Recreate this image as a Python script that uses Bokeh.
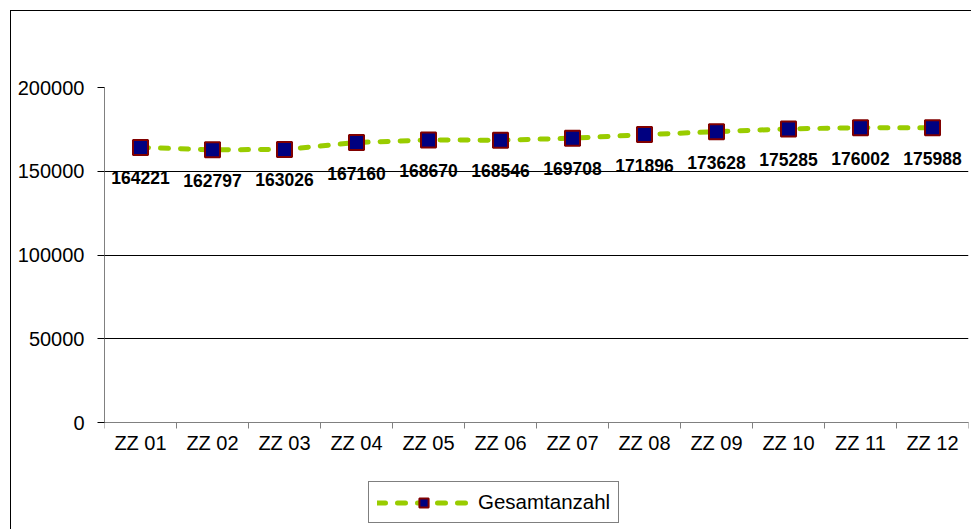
from bokeh.plotting import figure
from bokeh.models import FixedTicker, Legend, LegendItem, ColumnDataSource
from bokeh.core.properties import value
from bokeh.embed import file_html
from bokeh.resources import INLINE

categories = ["ZZ 01", "ZZ 02", "ZZ 03", "ZZ 04", "ZZ 05", "ZZ 06",
              "ZZ 07", "ZZ 08", "ZZ 09", "ZZ 10", "ZZ 11", "ZZ 12"]
counts = [164221, 162797, 163026, 167160, 168670, 168546,
          169708, 171896, 173628, 175285, 176002, 175988]
y_ticks = [0, 50000, 100000, 150000, 200000]
series_name = "Gesamtanzahl"

FONT = "Liberation Sans"

# layout (pixels): axis area 335 px tall, 108 px of space below it for labels + legend
AXIS_PX = 335
BELOW_PX = 108
y_max = y_ticks[-1]
y_min = -y_max * BELOW_PX / AXIS_PX

xs = [i + 0.5 for i in range(len(categories))]
src = ColumnDataSource(dict(x=xs, y=counts, lab=[str(c) for c in counts]))

p = figure(width=961, height=519, output_backend="svg", toolbar_location=None,
           x_range=(0, len(categories)), y_range=(y_min, y_max),
           min_border_left=93, min_border_right=4, min_border_top=76,
           min_border_bottom=0)
p.styles = {"margin-left": "10px", "margin-top": "10px",
            "border-left": "1px solid black", "border-top": "1px solid black"}
p.outline_line_color = None
p.background_fill_color = "white"
p.border_fill_color = "white"

# axes
p.xaxis.fixed_location = 0
p.xaxis.ticker = FixedTicker(ticks=xs, minor_ticks=list(range(len(categories) + 1)))
p.xaxis.major_label_overrides = {x: c for x, c in zip(xs, categories)}
p.xaxis.major_tick_line_color = None
p.xaxis.major_tick_out = 0
p.xaxis.major_tick_in = 0
p.xaxis.minor_tick_out = 6
p.xaxis.minor_tick_in = 0
p.xaxis.minor_tick_line_color = "#808080"
p.xaxis.axis_line_color = "#808080"
p.xaxis.major_label_text_font = FONT
p.xaxis.major_label_text_font_size = "20px"
p.xaxis.major_label_text_color = "black"
p.xaxis.major_label_standoff = 3

p.yaxis.ticker = FixedTicker(ticks=y_ticks, minor_ticks=[])
p.yaxis.bounds = (y_ticks[0], y_ticks[-1])
p.yaxis.major_label_overrides = {t: str(t) for t in y_ticks}
p.yaxis.major_tick_out = 7
p.yaxis.major_tick_in = 0
p.yaxis.major_tick_line_color = "black"
p.yaxis.axis_line_color = "#808080"
p.yaxis.major_label_text_font = FONT
p.yaxis.major_label_text_font_size = "20px"
p.yaxis.major_label_text_color = "black"
p.yaxis.major_label_standoff = 13

p.xgrid.visible = False
p.ygrid.grid_line_color = "black"
p.ygrid.grid_line_width = 1

line_r = p.line("x", "y", source=src, line_color="#99CC00", line_width=5,
                line_dash="8 12", line_cap="round")
sq_r = p.scatter("x", "y", source=src, marker="square", size=15,
                 fill_color="#000080", line_color="#800000", line_width=2)
p.text("x", "y", text="lab", source=src, text_font=value(FONT),
       text_font_style="bold", text_font_size="17.5px", text_align="center",
       text_baseline="top", y_offset=24, text_color="black")

legend = Legend(items=[LegendItem(label=series_name, renderers=[line_r, sq_r])],
                location=(264, 7), orientation="vertical", padding=8,
                spacing=0, margin=0, glyph_width=93, glyph_height=23,
                label_standoff=8, label_text_font=FONT,
                label_text_font_size="20.5px", label_text_color="black",
                border_line_color="black", border_line_width=1,
                background_fill_color="white", background_fill_alpha=1)
p.add_layout(legend, "center")

open("out.html", "w").write(file_html(p, INLINE))
